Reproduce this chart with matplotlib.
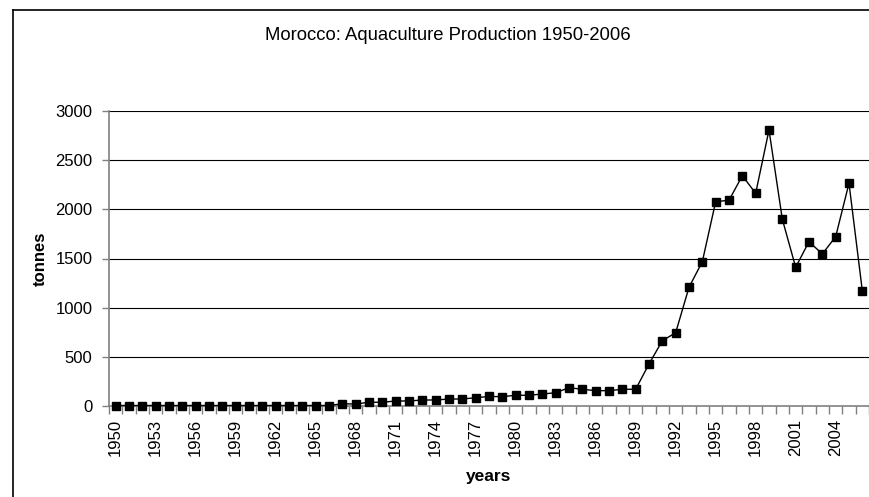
import numpy as np
import matplotlib
matplotlib.use("Agg")
import matplotlib.pyplot as plt
from matplotlib.lines import Line2D

plt.rcParams['font.family'] = ['Liberation Sans', 'DejaVu Sans']

# data (tonnes per year)
years = list(range(1950, 2007))
tonnes = [5, 5, 5, 5, 5, 5, 5, 5, 5, 5,
          5, 5, 5, 5, 5, 5, 5, 23, 20, 38,
          38, 51, 51, 61, 61, 71, 71, 84, 97, 95,
          109, 109, 122, 135, 186, 170, 156, 156, 170, 170,
          427, 664, 745, 1207, 1468, 2078, 2092, 2342, 2163, 2807,
          1899, 1411, 1671, 1546, 1722, 2265, 1170]
title = "Morocco: Aquaculture Production 1950-2006"
yticks = [0, 500, 1000, 1500, 2000, 2500, 3000]

W, H = 869, 497
fig = plt.figure(figsize=(W / 100, H / 100), dpi=100)

# plot area in pixels: left 109, right 869, top 111, bottom 406
ax = fig.add_axes([109 / W, (H - 406) / H, 760 / W, 295 / H])

x = np.arange(len(years))
ax.plot(x, tonnes, color='black', lw=1.0, marker='s', ms=5.5,
        mfc='black', mec='black', clip_on=False, zorder=3)

ax.set_xlim(-0.5, len(years) - 0.5)
ax.set_ylim(0, 3000)
ax.set_yticks(yticks)
ax.set_yticklabels([str(v) for v in yticks], fontsize=12)
for v in yticks[1:]:
    ax.axhline(v, color='black', lw=0.8, zorder=1)

# category axis: ticks between categories, labels every 3 years
ax.set_xticks(np.arange(len(years) + 1) - 0.5)
ax.set_xticklabels([])
ax.set_xticks(x[::3], minor=True)
ax.set_xticklabels([str(y) for y in years[::3]], minor=True,
                   rotation=90, fontsize=12)
ax.tick_params(axis='x', which='minor', length=0, pad=9)
ax.tick_params(axis='x', which='major', length=6, width=1, color='#808080')
ax.tick_params(axis='y', length=5, width=1, color='#808080', pad=7)

for side in ['top', 'right']:
    ax.spines[side].set_visible(False)
for side in ['left', 'bottom']:
    ax.spines[side].set_color('#808080')
    ax.spines[side].set_linewidth(1.2)

fig.text(448 / W, 1 - 35 / H, title, ha='center', va='center', fontsize=13.3)
fig.text(40 / W, 1 - 259 / H, "tonnes", ha='center', va='center',
         rotation=90, fontsize=12, fontweight='bold')
fig.text(489 / W, 1 - 476 / H, "years", ha='center', va='center',
         fontsize=12.5, fontweight='bold')

# chart-area border (cropped at right and bottom)
fig.add_artist(Line2D([12.5 / W, 12.5 / W], [0, 1 - 9.5 / H],
                      transform=fig.transFigure, color='black', lw=1.2))
fig.add_artist(Line2D([12.5 / W, 1], [1 - 9.5 / H, 1 - 9.5 / H],
                      transform=fig.transFigure, color='black', lw=1.2))

fig.savefig("out.png", dpi=100)
